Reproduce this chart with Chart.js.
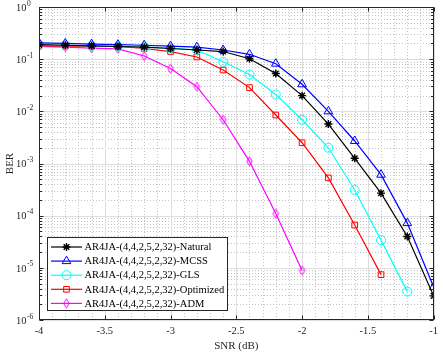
<!DOCTYPE html>
<html>
<head>
<meta charset="utf-8">
<script src="https://cdn.jsdelivr.net/npm/chart.js"></script>
<style>
  html, body { margin: 0; padding: 0; background: #fff; }
</style>
</head>
<body>
<canvas id="berChart" width="443" height="354"></canvas>
<script>
// SNR points (dB), shared by all curves
const snr = [-4, -3.8, -3.6, -3.4, -3.2, -3.0, -2.8, -2.6, -2.4, -2.2, -2.0, -1.8, -1.6, -1.4, -1.2, -1.0];

// BER values
const berNatural   = [0.19, 0.185, 0.18, 0.175, 0.17, 0.16, 0.15, 0.14, 0.102, 0.053, 0.020, 0.0057, 0.00126, 0.00027, 0.00004, 0.0000029];
const berMCSS      = [0.205, 0.2, 0.195, 0.19, 0.185, 0.178, 0.17, 0.15, 0.124, 0.082, 0.033, 0.010, 0.0027, 0.00061, 0.000072, 0.0000043];
const berGLS       = [0.19, 0.185, 0.18, 0.175, 0.17, 0.163, 0.15, 0.089, 0.051, 0.021, 0.0069, 0.0020, 0.00031, 0.000034, 0.0000035];
const berOptimized = [0.18, 0.178, 0.177, 0.175, 0.16, 0.14, 0.11, 0.062, 0.0285, 0.0085, 0.0025, 0.00053, 0.000066, 0.0000074];
const berADM       = [0.175, 0.17, 0.163, 0.158, 0.115, 0.066, 0.0297, 0.0069, 0.0011, 0.00011, 0.0000089];

const seriesLabels = [
  "AR4JA-(4,4,2,5,2,32)-Natural",
  "AR4JA-(4,4,2,5,2,32)-MCSS",
  "AR4JA-(4,4,2,5,2,32)-GLS",
  "AR4JA-(4,4,2,5,2,32)-Optimized",
  "AR4JA-(4,4,2,5,2,32)-ADM"
];
const seriesData = [berNatural, berMCSS, berGLS, berOptimized, berADM];
const seriesColors = ["#000000", "#0000ff", "#00ffff", "#ff0000", "#ff00ff"];

const xTickStep = 0.5;
const serif = "'Liberation Serif', 'Times New Roman', serif";
const axisColor = "#262626";

// matlab-like narrow diamond marker
function makeDiamond(color) {
  const c = document.createElement("canvas");
  c.width = 9; c.height = 12;
  const g = c.getContext("2d");
  g.strokeStyle = color;
  g.lineWidth = 1;
  g.beginPath();
  g.moveTo(4.5, 1.5); g.lineTo(7.3, 6); g.lineTo(4.5, 10.5); g.lineTo(1.7, 6); g.closePath();
  g.stroke();
  return c;
}

const seriesMarkers = ["star", "triangle", "circle", "rect", makeDiamond("#ff00ff")];
const markerRadius = [4, 5, 4.5, 4, 4.5];

const datasets = seriesData.map((vals, i) => ({
  label: seriesLabels[i],
  data: vals.map((v, k) => ({ x: snr[k], y: v })),
  borderColor: seriesColors[i],
  backgroundColor: "rgba(0,0,0,0)",
  borderWidth: 1.2,
  pointStyle: seriesMarkers[i],
  pointRadius: markerRadius[i],
  pointBorderWidth: i === 0 ? 1.4 : 1,
  pointBorderColor: seriesColors[i],
  pointBackgroundColor: "rgba(0,0,0,0)",
  tension: 0
}));

function drawMarker(ctx, style, r, x, y) {
  if (Chart.helpers && Chart.helpers.drawPoint) {
    Chart.helpers.drawPoint(ctx, { pointStyle: style, radius: r, rotation: 0, borderWidth: ctx.lineWidth }, x, y);
    return;
  }
  if (style instanceof HTMLCanvasElement) {
    ctx.drawImage(style, x - style.width / 2, y - style.height / 2);
    return;
  }
  ctx.beginPath();
  ctx.arc(x, y, r, 0, Math.PI * 2);
  ctx.stroke();
}

// grid, frame, ticks, y labels and in-plot legend, drawn matlab-style
const matlabAxes = {
  id: "matlabAxes",
  beforeDatasetsDraw(chart) {
    const { ctx, chartArea: a, scales: { x, y } } = chart;
    ctx.save();
    ctx.lineWidth = 1;
    // minor dotted grid
    ctx.strokeStyle = "#c4c4c4";
    ctx.setLineDash([1, 2]);
    for (let i = 1; i < 30; i++) {
      if (i % 5 === 0) continue;
      const px = Math.round(x.getPixelForValue(-4 + i * 0.1)) + 0.5;
      ctx.beginPath(); ctx.moveTo(px, a.top); ctx.lineTo(px, a.bottom); ctx.stroke();
    }
    for (let e = -6; e < 0; e++) {
      for (let m = 2; m <= 9; m++) {
        const py = Math.round(y.getPixelForValue(m * Math.pow(10, e))) + 0.5;
        ctx.beginPath(); ctx.moveTo(a.left, py); ctx.lineTo(a.right, py); ctx.stroke();
      }
    }
    // major solid grid
    ctx.setLineDash([]);
    ctx.strokeStyle = "#dedede";
    for (let v = -4; v <= -1 + 1e-9; v += xTickStep) {
      const px = Math.round(x.getPixelForValue(v)) + 0.5;
      ctx.beginPath(); ctx.moveTo(px, a.top); ctx.lineTo(px, a.bottom); ctx.stroke();
    }
    for (let e = -6; e <= 0; e++) {
      const py = Math.round(y.getPixelForValue(Math.pow(10, e))) + 0.5;
      ctx.beginPath(); ctx.moveTo(a.left, py); ctx.lineTo(a.right, py); ctx.stroke();
    }
    ctx.restore();
  },
  afterDatasetsDraw(chart) {
    const { ctx, chartArea: a, scales: { x, y } } = chart;
    ctx.save();
    // frame
    ctx.strokeStyle = axisColor;
    ctx.lineWidth = 1;
    const L = Math.round(a.left) + 0.5, R = Math.round(a.right) - 0.5;
    const T = Math.round(a.top) + 0.5, B = Math.round(a.bottom) - 0.5;
    ctx.strokeRect(L, T, R - L, B - T);
    // inward ticks
    ctx.beginPath();
    for (let v = -4; v <= -1 + 1e-9; v += xTickStep) {
      const px = Math.round(x.getPixelForValue(v)) + 0.5;
      ctx.moveTo(px, B); ctx.lineTo(px, B - 4);
      ctx.moveTo(px, T); ctx.lineTo(px, T + 4);
    }
    for (let e = -6; e <= 0; e++) {
      for (let m = 1; m <= 9; m++) {
        if (e === 0 && m > 1) break;
        const py = Math.round(y.getPixelForValue(m * Math.pow(10, e))) + 0.5;
        const len = m === 1 ? 4 : 2.5;
        ctx.moveTo(L, py); ctx.lineTo(L + len, py);
        ctx.moveTo(R, py); ctx.lineTo(R - len, py);
      }
    }
    ctx.stroke();

    // y tick labels 10^n
    ctx.fillStyle = axisColor;
    for (let e = -6; e <= 0; e++) {
      const py = y.getPixelForValue(Math.pow(10, e));
      ctx.font = "10.5px " + serif;
      ctx.textAlign = "left";
      ctx.textBaseline = "middle";
      ctx.fillText("10", 16, py + 1);
      const w = ctx.measureText("10").width;
      ctx.font = "7.5px " + serif;
      ctx.textBaseline = "alphabetic";
      ctx.fillText(String(e), 16 + w + 0.5, py - 1.5);
    }

    // legend box inside plot
    const lx = 47.5, ly = 237.5, lw = 180, lh = 73, rowH = 14.1;
    ctx.fillStyle = "#ffffff";
    ctx.fillRect(lx, ly, lw, lh);
    ctx.strokeStyle = axisColor;
    ctx.lineWidth = 1;
    ctx.strokeRect(lx, ly, lw, lh);
    chart.data.datasets.forEach((ds, i) => {
      const ry = ly + 9.5 + i * rowH;
      ctx.strokeStyle = ds.borderColor;
      ctx.lineWidth = ds.borderWidth;
      ctx.beginPath(); ctx.moveTo(51, ry); ctx.lineTo(82, ry); ctx.stroke();
      ctx.fillStyle = "rgba(0,0,0,0)";
      ctx.lineWidth = ds.pointBorderWidth;
      drawMarker(ctx, ds.pointStyle, ds.pointRadius, 66.5, ry);
      ctx.fillStyle = "#000000";
      ctx.font = "10.5px " + serif;
      ctx.textAlign = "left";
      ctx.textBaseline = "middle";
      ctx.fillText(ds.label, 84.5, ry + 0.5);
    });
    ctx.restore();
  }
};

new Chart(document.getElementById("berChart"), {
  type: "line",
  data: { datasets },
  options: {
    responsive: false,
    animation: false,
    events: [],
    layout: { padding: { top: 7, right: 9, left: 0, bottom: 0 } },
    plugins: { legend: { display: false }, tooltip: { enabled: false } },
    scales: {
      x: {
        type: "linear",
        min: -4,
        max: -1,
        grid: { display: false, drawTicks: false },
        border: { display: false },
        ticks: {
          stepSize: xTickStep,
          autoSkip: false,
          maxRotation: 0,
          padding: 5,
          color: axisColor,
          font: { family: serif, size: 10.5 },
          callback: (v) => String(Math.round(v * 10) / 10)
        },
        title: {
          display: true,
          text: "SNR (dB)",
          color: axisColor,
          font: { family: serif, size: 11 },
          padding: { top: 0, bottom: 1.5 }
        },
        afterFit: (s) => { s.height = 34; }
      },
      y: {
        type: "logarithmic",
        min: 1e-6,
        max: 1,
        grid: { display: false, drawTicks: false },
        border: { display: false },
        ticks: { display: false },
        title: {
          display: true,
          text: "BER",
          color: axisColor,
          font: { family: serif, size: 11 },
          padding: { top: 3.5, bottom: 0 }
        },
        afterFit: (s) => { s.width = 39; }
      }
    }
  },
  plugins: [matlabAxes]
});
</script>
</body>
</html>
